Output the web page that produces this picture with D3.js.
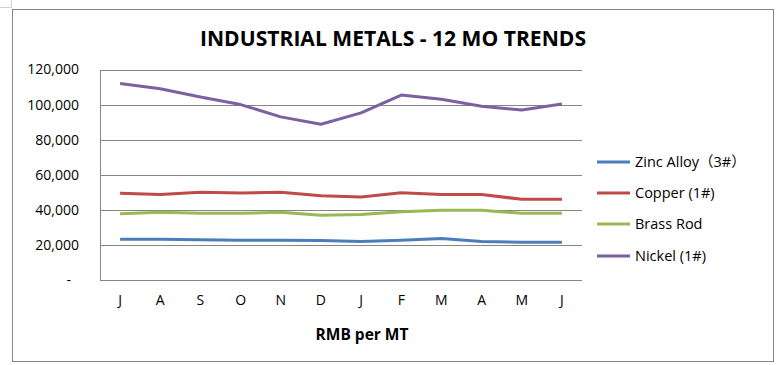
<!DOCTYPE html>
<html><head><meta charset="utf-8">
<script src="https://cdn.jsdelivr.net/npm/d3@7"></script>
<style>body{margin:0;background:#fff}svg{display:block}</style>
</head><body>
<script>
const months = ["J","A","S","O","N","D","J","F","M","A","M","J"];
const seriesNames = ["Zinc Alloy（3#）","Copper (1#)","Brass Rod","Nickel (1#)"];
const seriesColors = ["#4A7EBB","#BE4B48","#98B954","#7D60A0"];
const zinc   = [23200,23200,23000,22600,22600,22500,22000,22600,23700,22000,21500,21500];
const copper = [49400,48800,50000,49600,50000,48000,47300,49700,48800,48800,46000,46000];
const brass  = [37800,38600,38000,38000,38600,36900,37400,38900,39700,39700,38000,38000];
const nickel = [112000,109000,104300,100000,93000,88800,95300,105400,103000,99100,96900,100300];
const yTicks = [0,20000,40000,60000,80000,100000,120000];
const title = "INDUSTRIAL METALS - 12 MO TRENDS";
const xTitle = "RMB per MT";

const W=779,H=365;
const svg=d3.select("body").append("svg").attr("width",W).attr("height",H);
const font="'Open Sans','Noto Sans CJK SC',sans-serif";

// outer frame
svg.append("rect").attr("x",12.5).attr("y",9.5).attr("width",761).attr("height",352)
  .attr("fill","#fff").attr("stroke","#868686").attr("stroke-width",1);
svg.append("line").attr("x1",11.5).attr("x2",11.5).attr("y1",0).attr("y2",8).attr("stroke","#d0d0d0");
svg.append("line").attr("x1",0).attr("x2",11).attr("y1",7.5).attr("y2",7.5).attr("stroke","#d0d0d0");

const L=100,R=582,T=69.5,B=280;
const x=d3.scaleBand().domain(d3.range(months.length)).range([L,R]);
const y=d3.scaleLinear().domain([0,120000]).range([B,T]);

// gridlines
svg.append("g").selectAll("line").data(yTicks).join("line")
  .attr("x1",L).attr("x2",R).attr("y1",d=>Math.round(y(d))+0.5).attr("y2",d=>Math.round(y(d))+0.5)
  .attr("stroke","#868686").attr("stroke-width",1);
svg.append("line").attr("x1",L+0.5).attr("x2",L+0.5).attr("y1",Math.round(T)+0.5).attr("y2",B+0.5)
  .attr("stroke","#868686");

// y axis labels
const yAxis=d3.axisLeft(y).tickValues(yTicks).tickSize(0).tickPadding(21)
  .tickFormat(d=>d===0?"-":d3.format(",")(d));
const gy=svg.append("g").attr("transform",`translate(${L},0)`).call(yAxis);
gy.select(".domain").remove();
gy.selectAll("text").attr("font-family",font).attr("font-size",14).attr("fill","#000");
gy.selectAll(".tick").filter(d=>d===0).select("text").attr("dx",-8);

// x axis labels
const xAxis=d3.axisBottom(x).tickSize(0).tickPadding(15).tickFormat(i=>months[i]);
const gx=svg.append("g").attr("transform",`translate(0,${B})`).call(xAxis);
gx.select(".domain").remove();
gx.selectAll("text").attr("font-family",font).attr("font-size",14).attr("fill","#000");

// lines
const data=[zinc,copper,brass,nickel];
const line=d3.line().x((d,i)=>x(i)+x.bandwidth()/2).y(d=>y(d));
svg.append("g").selectAll("path").data(data).join("path")
  .attr("d",line).attr("fill","none").attr("stroke",(d,i)=>seriesColors[i])
  .attr("stroke-width",3).attr("stroke-linejoin","round");

// title
svg.append("text").attr("x",393).attr("y",46).attr("text-anchor","middle")
  .attr("font-family",font).attr("font-weight","bold").attr("font-size",21)
  .attr("textLength",386).attr("lengthAdjust","spacingAndGlyphs").text(title);
svg.append("text").attr("x",362).attr("y",340).attr("text-anchor","middle")
  .attr("font-family",font).attr("font-weight","bold").attr("font-size",15.5).text(xTitle);

// legend
const ly=[162,193,224,256];
const lg=svg.append("g").selectAll("g").data(seriesNames).join("g")
  .attr("transform",(d,i)=>`translate(597,${ly[i]})`);
lg.append("line").attr("x1",0).attr("x2",33).attr("stroke",(d,i)=>seriesColors[i]).attr("stroke-width",3);
lg.append("text").attr("x",38).attr("dy","0.35em").attr("font-family",font).attr("font-size",14.5).text(d=>d);
</script>
</body></html>
